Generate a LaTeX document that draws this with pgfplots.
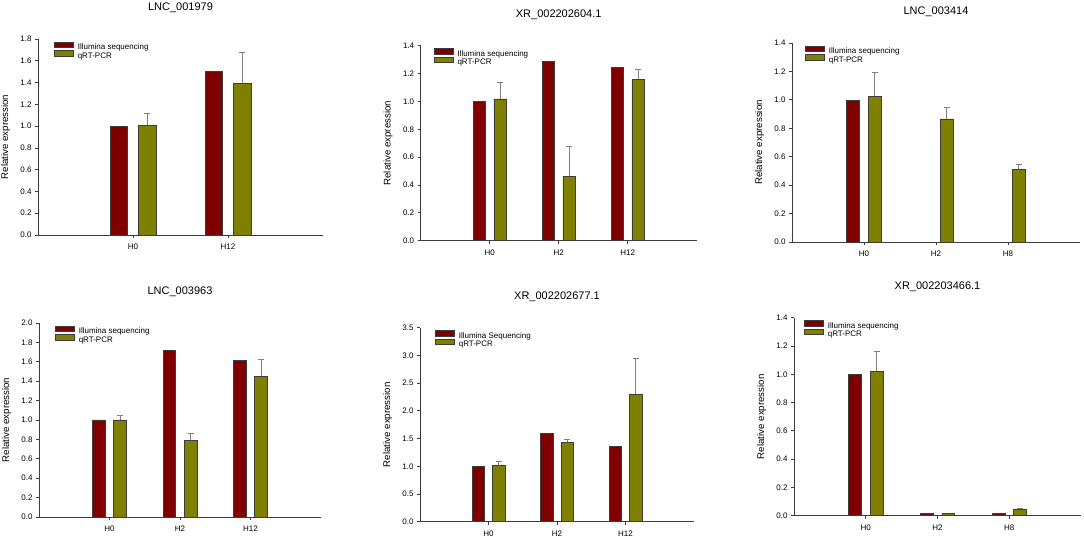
\documentclass[border=0pt]{standalone}
\usepackage{pgfplots}
\pgfplotsset{compat=1.18}
\usepackage{pgfplotstable}
\usepackage{fontspec}
\setmainfont{Liberation Sans}
\definecolor{ill}{RGB}{128,0,0}
\definecolor{qp}{RGB}{128,128,0}
\definecolor{ax}{RGB}{60,60,60}

% panel data: x, illumina, qRT-PCR, error (+)
\pgfplotstableread{
x ill qp err
0 1.00 1.01 0.11
1 1.50 1.39 0.29
}\dA
\pgfplotstableread{
x ill qp err
0 1.00 1.018 0.12
1 1.29 0.463 0.214
2 1.246 1.158 0.069
}\dB
\pgfplotstableread{
x qp err
0 1.026 0.169
1 0.866 0.080
2 0.513 0.031
}\dC
\pgfplotstableread{
x ill qp err
0 1.00 1.00 0.048
1 1.718 0.787 0.072
2 1.615 1.45 0.172
}\dD
\pgfplotstableread{
x ill qp err
0 1.00 1.01 0.078
1 1.594 1.431 0.048
2 1.365 2.29 0.66
}\dE
\pgfplotstableread{
x ill qp err
0 1.00 1.023 0.141
1 0.019 0.014 0.0
2 0.016 0.047 0.007
}\dF

\pgfplotsset{
  panel/.style={
    scale only axis,
    axis lines*=left,
    xmin=-1, xmax=3, ymin=0,
    enlargelimits=false,
    clip=false,
    xtick={0,1,2},
    tick align=outside,
    major tick length=3pt,
    axis line style={line width=0.8pt, ax},
    every tick/.style={line width=0.7pt, ax},
    tick label style={font=\fontsize{8}{9}\selectfont},
    xticklabel style={yshift=-2.5pt},
    /pgf/number format/assume math mode=true,
    yticklabel style={/pgf/number format/.cd, fixed, fixed zerofill, precision=1},
    every axis title/.style={at={(0.5,1)}, anchor=center, yshift=31pt, font=\fontsize{11}{13}\selectfont},
    ylabel={Relative expression},
    every axis y label/.style={at={(axis description cs:0,0.5)}, rotate=90, anchor=center, yshift=32.5pt, font=\fontsize{9.7}{11}\selectfont},
    legend cell align=left,
    legend style={draw=none, fill=none, inner sep=0pt, column sep=4pt, row sep=-1.5pt,
      font=\fontsize{8}{9}\selectfont,
      nodes={inner sep=0pt, text height=5.8pt, text depth=1.6pt},
      at={(axis description cs:0,1)}, anchor=north west, yshift=-2.5pt},
  },
  illbar/.style={ybar, bar width=0.18, bar shift=-0.15, fill=ill, draw=ax, line width=0.6pt,
    legend image code/.code={\draw[fill=ill, draw=ax, line width=0.6pt] (0pt,0.1pt) rectangle (19pt,5.8pt);}},
  qpbar/.style={ybar, bar width=0.18, bar shift=0.15, fill=qp, draw=ax, line width=0.6pt,
    legend image code/.code={\draw[fill=qp, draw=ax, line width=0.6pt] (0pt,0.1pt) rectangle (19pt,5.8pt);}},
  qperr/.style={draw=none, mark=none, forget plot,
    error bars/y dir=plus, error bars/y explicit,
    error bars/error bar style={gray, line width=0.8pt},
    error bars/error mark options={rotate=90, mark size=3pt, gray, line width=0.8pt}},
}

\begin{document}
\begin{tikzpicture}
\useasboundingbox (0pt,0pt) rectangle (1084pt,537pt);

% Panel 1
\begin{axis}[panel, at={(38pt,302pt)}, anchor=south west, width=285pt, height=196pt,
  xmin=-1, xmax=2, xtick={0,1}, xticklabels={H0,H12},
  ymax=1.8, ytick={0,0.2,...,1.8},
  title={LNC\_001979}, legend style={xshift=16pt}]
\addplot[qperr] table[x expr=\thisrow{x}+0.15, y=qp, y error=err] {\dA};
\addplot[illbar] table[x=x, y=ill] {\dA};
\addplot[qpbar] table[x=x, y=qp] {\dA};
\legend{Illumina sequencing, qRT-PCR}
\end{axis}

% Panel 2
\begin{axis}[panel, at={(420.7pt,296.3pt)}, anchor=south west, width=276pt, height=195pt,
  xticklabels={H0,H2,H12},
  ymax=1.4, ytick={0,0.2,...,1.4},
  title={XR\_002202604.1}, legend style={xshift=13pt}]
\addplot[qperr] table[x expr=\thisrow{x}+0.15, y=qp, y error=err] {\dB};
\addplot[illbar] table[x=x, y=ill] {\dB};
\addplot[qpbar] table[x=x, y=qp] {\dB};
\legend{Illumina sequencing, qRT-PCR}
\end{axis}

% Panel 3
\begin{axis}[panel, at={(792pt,295pt)}, anchor=south west, width=288pt, height=199pt,
  xticklabels={H0,H2,H8},
  ymax=1.4, ytick={0,0.2,...,1.4},
  title={LNC\_003414}, legend style={xshift=13pt}]
\addplot[qperr] table[x expr=\thisrow{x}+0.15, y=qp, y error=err] {\dC};
\addplot[illbar] coordinates {(0,1.0)};
\addplot[qpbar] table[x=x, y=qp] {\dC};
\legend{Illumina sequencing, qRT-PCR}
\end{axis}

% Panel 4
\begin{axis}[panel, at={(39pt,20pt)}, anchor=south west, width=282pt, height=194pt,
  xticklabels={H0,H2,H12},
  ymax=2.0, ytick={0,0.2,...,2.0},
  title={LNC\_003963}, legend style={xshift=16pt}]
\addplot[qperr] table[x expr=\thisrow{x}+0.15, y=qp, y error=err] {\dD};
\addplot[illbar] table[x=x, y=ill] {\dD};
\addplot[qpbar] table[x=x, y=qp] {\dD};
\legend{Illumina sequencing, qRT-PCR}
\end{axis}

% Panel 5
\begin{axis}[panel, at={(420pt,15.3pt)}, anchor=south west, width=274pt, height=194pt,
  xticklabels={H0,H2,H12},
  ymax=3.5, ytick={0,0.5,...,3.5},
  title={XR\_002202677.1}, legend style={xshift=15pt}]
\addplot[qperr] table[x expr=\thisrow{x}+0.15, y=qp, y error=err] {\dE};
\addplot[illbar] table[x=x, y=ill] {\dE};
\addplot[qpbar] table[x=x, y=qp] {\dE};
\legend{Illumina Sequencing, qRT-PCR}
\end{axis}

% Panel 6
\begin{axis}[panel, at={(794pt,21.3pt)}, anchor=south west, width=287pt, height=198pt,
  xticklabels={H0,H2,H8},
  ymax=1.4, ytick={0,0.2,...,1.4},
  title={XR\_002203466.1}, legend style={xshift=10pt}]
\addplot[qperr] table[x expr=\thisrow{x}+0.15, y=qp, y error=err] {\dF};
\addplot[illbar] table[x=x, y=ill] {\dF};
\addplot[qpbar] table[x=x, y=qp] {\dF};
\legend{Illumina sequencing, qRT-PCR}
\end{axis}
\end{tikzpicture}
\end{document}
